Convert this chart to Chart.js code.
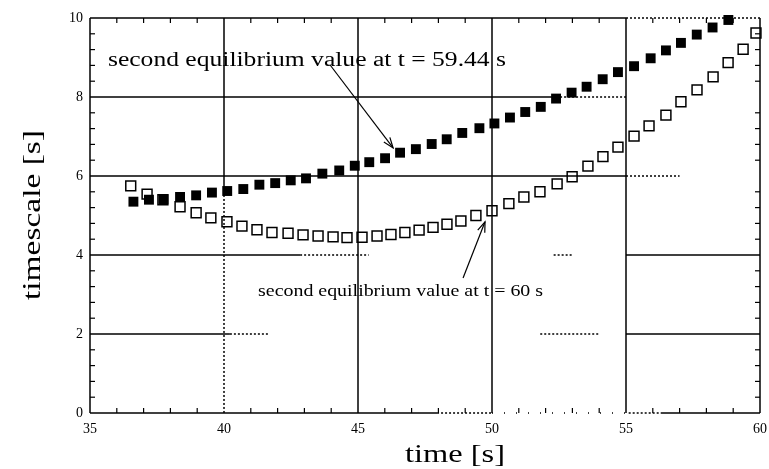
<!DOCTYPE html>
<html><head><meta charset="utf-8">
<script src="https://cdn.jsdelivr.net/npm/chart.js@4/dist/chart.umd.min.js"></script>
<style>html,body{margin:0;padding:0;background:#fff;}#wrap{width:769px;height:469px;}</style>
</head><body><div id="wrap"><canvas id="c" width="769" height="469"></canvas></div>
<script>
// ---- data ----
const timeFilled = [36.62,37.20,37.74,38.36,38.96,39.55,40.12,40.72,41.32,41.91,42.49,43.06,43.67,44.30,44.88,45.42,46.01,46.57,47.16,47.75,48.31,48.89,49.53,50.09,50.67,51.24,51.82,52.39,52.97,53.53,54.13,54.70,55.30,55.92,56.49,57.05,57.64,58.23,58.82];
const valueFilled = [5.35,5.40,5.41,5.47,5.51,5.58,5.62,5.67,5.78,5.82,5.89,5.94,6.06,6.14,6.26,6.35,6.45,6.59,6.68,6.81,6.93,7.09,7.21,7.33,7.48,7.62,7.75,7.96,8.11,8.26,8.45,8.63,8.78,8.98,9.18,9.37,9.58,9.76,9.95];
const timeOpen = [36.52,37.13,37.72,38.36,38.96,39.51,40.11,40.67,41.23,41.79,42.39,42.95,43.51,44.07,44.59,45.15,45.71,46.23,46.75,47.28,47.80,48.32,48.84,49.40,50.00,50.63,51.19,51.79,52.43,52.99,53.58,54.14,54.70,55.30,55.86,56.49,57.05,57.65,58.25,58.81,59.37,59.85];
const valueOpen = [5.75,5.54,5.40,5.22,5.07,4.94,4.84,4.73,4.64,4.57,4.55,4.51,4.48,4.46,4.44,4.45,4.48,4.52,4.57,4.63,4.70,4.78,4.86,5.00,5.12,5.30,5.47,5.60,5.80,5.98,6.25,6.49,6.73,7.01,7.27,7.54,7.88,8.18,8.51,8.87,9.21,9.62];
const xTicks = [35,40,45,50,55,60];
const yTicks = [0,2,4,6,8,10];
const xTitle = 'time [s]';
const yTitle = 'timescale [s]';
const note1 = 'second equilibrium value at t = 59.44 s';
const note2 = 'second equilibrium value at t = 60 s';
// annotation anchors in data units: [text x, text baseline y, arrow tail x, tail y, arrow tip x, tip y]
const note1Pos = [35.67, 8.78, 43.96, 8.81, 46.31, 6.71];
const note2Pos = [41.27, 2.96, 48.92, 3.42, 49.74, 4.84];

// ---- layout / styles ----
const SERIF = '"Liberation Serif", "DejaVu Serif", serif';
const ptsFilled = timeFilled.map((t,i)=>({x:t,y:valueFilled[i]}));
const ptsOpen = timeOpen.map((t,i)=>({x:t,y:valueOpen[i]}));

function stretchText(ctx, text, x, y, size, width, align, rot){
  ctx.save();
  ctx.font = size + 'px ' + SERIF;
  const w = ctx.measureText(text).width;
  const k = width / w;
  ctx.translate(x, y);
  if (rot) ctx.rotate(rot);
  ctx.scale(k, 1);
  ctx.textAlign = align || 'left';
  ctx.fillStyle = '#000';
  ctx.fillText(text, 0, 0);
  ctx.restore();
}
function seg(ctx, x0,y0,x1,y1,dash,lw){
  ctx.save();
  ctx.setLineDash(dash||[]);
  ctx.lineWidth = lw||1.5;
  ctx.strokeStyle = '#000';
  ctx.beginPath(); ctx.moveTo(x0,y0); ctx.lineTo(x1,y1); ctx.stroke();
  ctx.restore();
}
function arrow(ctx, x0,y0,x1,y1){
  seg(ctx,x0,y0,x1,y1,[],1.2);
  const a = Math.atan2(y1-y0,x1-x0), L=11, s=0.35;
  ctx.save(); ctx.strokeStyle='#000'; ctx.lineWidth=1.2;
  ctx.beginPath();
  ctx.moveTo(x1-L*Math.cos(a-s), y1-L*Math.sin(a-s));
  ctx.lineTo(x1,y1);
  ctx.lineTo(x1-L*Math.cos(a+s), y1-L*Math.sin(a+s));
  ctx.stroke(); ctx.restore();
}
const SOLID=[], DOT=[2,2], SPARSE=[1,11];
// grid segments in data units
const hGrid = [
  [8, [[35,52.54,SOLID],[52.54,55,DOT]]],
  [6, [[35,55,SOLID],[55,57,DOT]]],
  [4, [[35,42.84,SOLID],[42.84,45.4,DOT],[52.3,53,DOT],[55,60,SOLID]]],
  [2, [[35,40.22,SOLID],[40.22,41.7,DOT],[51.8,54,DOT],[55,60,SOLID]]],
  [10,[[35,55,SOLID],[55,60,DOT]]],
  [0, [[35,47.95,SOLID],[47.95,50,DOT],[50,55.1,SPARSE],[55.1,56.3,DOT],[56.3,60,SOLID]]]
];
const vGrid = [
  [40,[[10,5.52,SOLID],[5.52,0,DOT]]],
  [45,[[10,0,SOLID]]],[50,[[10,0,SOLID]]],[55,[[10,0,SOLID]]],
  [35,[[10,0,SOLID]]],[60,[[10,0,SOLID]]]
];

const framePlugin = {
  id:'frame',
  beforeDatasetsDraw(chart){
    const ctx = chart.ctx, xs = chart.scales.x, ys = chart.scales.y;
    const X=v=>xs.getPixelForValue(v), Y=v=>ys.getPixelForValue(v);
    hGrid.forEach(([yv,parts])=>parts.forEach(([a,b,d])=>seg(ctx,X(a),Y(yv),X(b),Y(yv),d,1.5)));
    vGrid.forEach(([xv,parts])=>parts.forEach(([a,b,d])=>seg(ctx,X(xv),Y(a),X(xv),Y(b),d,1.5)));
    for(let t=36;t<60;t++){ if(t%5===0) continue;
      seg(ctx,X(t),Y(0),X(t),Y(0)-5,[],1.2); seg(ctx,X(t),Y(10),X(t),Y(10)+5,[],1.2); }
    for(let k=1;k<25;k++){ const v=k*0.4; if(k%5===0) continue;
      seg(ctx,X(35),Y(v),X(35)+5,Y(v),[],1.2); seg(ctx,X(60),Y(v),X(60)-5,Y(v),[],1.2); }
  },
  afterDatasetsDraw(chart){
    const ctx = chart.ctx, xs = chart.scales.x, ys = chart.scales.y;
    const X=v=>xs.getPixelForValue(v), Y=v=>ys.getPixelForValue(v);
    stretchText(ctx, note1, X(note1Pos[0]), Y(note1Pos[1]), 20, 398, 'left');
    arrow(ctx, X(note1Pos[2]),Y(note1Pos[3]),X(note1Pos[4]),Y(note1Pos[5]));
    stretchText(ctx, note2, X(note2Pos[0]), Y(note2Pos[1]), 17, 285, 'left');
    arrow(ctx, X(note2Pos[2]),Y(note2Pos[3]),X(note2Pos[4]),Y(note2Pos[5]));
    stretchText(ctx, xTitle, 455, 462, 26, 100, 'center');
    stretchText(ctx, yTitle, 40, 215, 26, 170, 'center', -Math.PI/2);
  }
};

new Chart(document.getElementById('c'), {
  type:'scatter',
  data:{datasets:[
    {label:'open', data:ptsOpen, pointStyle:'rect', pointRadius:7, borderColor:'#000', backgroundColor:'rgba(0,0,0,0)', borderWidth:1.5, showLine:false, clip:false},
    {label:'filled', data:ptsFilled, pointStyle:'rect', pointRadius:7, borderColor:'#000', backgroundColor:'#000', borderWidth:0, showLine:false, clip:false}
  ]},
  options:{
    responsive:false, devicePixelRatio:1, animation:false,
    layout:{padding:{top:18,right:9,left:0,bottom:0}},
    plugins:{legend:{display:false}, tooltip:{enabled:false}},
    scales:{
      x:{type:'linear', min:35, max:60,
        afterBuildTicks:s=>{s.ticks = xTicks.map(v=>({value:v}));},
        afterFit:s=>{s.height=56; s.paddingRight=0; s.paddingLeft=0;},
        grid:{display:false, drawTicks:false}, border:{display:false},
        ticks:{font:{family:SERIF,size:14}, color:'#000', padding:8, maxRotation:0, autoSkip:false}},
      y:{type:'linear', min:0, max:10,
        afterBuildTicks:s=>{s.ticks = yTicks.map(v=>({value:v}));},
        afterFit:s=>{s.width=90; s.paddingTop=0; s.paddingBottom=0;},
        grid:{display:false, drawTicks:false}, border:{display:false},
        ticks:{font:{family:SERIF,size:14}, color:'#000', padding:7, autoSkip:false}}
    }
  },
  plugins:[framePlugin]
});
</script></body></html>
